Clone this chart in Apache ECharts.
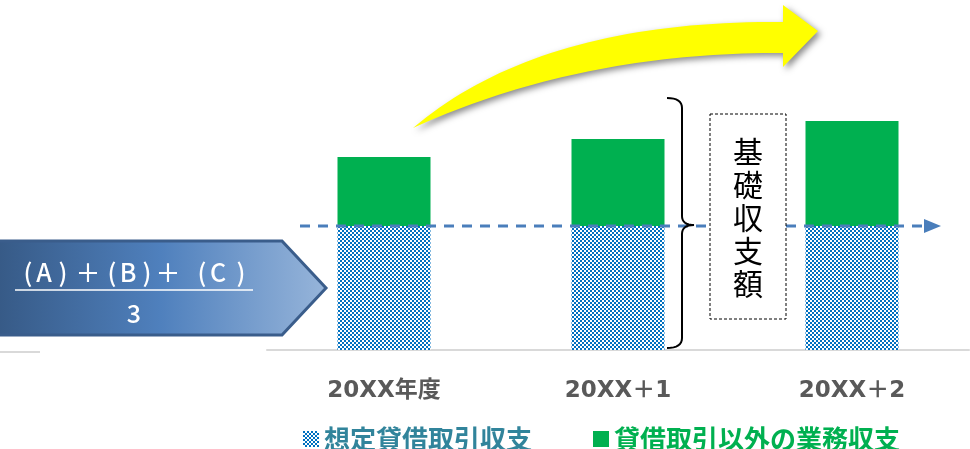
<!DOCTYPE html>
<html><head><meta charset="utf-8">
<script src="https://cdn.jsdelivr.net/npm/echarts@6/dist/echarts.min.js"></script>
<style>html,body{margin:0;padding:0;background:#fff}#c{width:970px;height:449px}</style>
</head><body><div id="c"></div>
<script>
const categories = ['20XX年度', '20XX＋1', '20XX＋2'];
const baseValues = [124, 124, 124];
const otherValues = [69, 87, 105];
const seriesNames = ['想定貸借取引収支', '貸借取引以外の業務収支'];
const formulaTop = '(A)＋(B)＋(C)';
const formulaBottom = '3';
const boxText = '基礎収支額';

const pc = document.createElement('canvas');
pc.width = 4; pc.height = 4;
const pctx = pc.getContext('2d');
pctx.fillStyle = '#ffffff'; pctx.fillRect(0, 0, 4, 4);
pctx.fillStyle = '#0070c0'; pctx.fillRect(0, 0, 2, 2); pctx.fillRect(2, 2, 2, 2);
const pattern = { image: pc, repeat: 'repeat' };

const FONT = '"Noto Sans CJK JP", "Noto Sans", sans-serif';
const LFONT = '"DejaVu Sans", "Noto Sans CJK JP", sans-serif';
const chart = echarts.init(document.getElementById('c'), null, { renderer: 'canvas' });
chart.setOption({
  animation: false,
  grid: { left: 267, right: 1, top: 0, bottom: 99 },
  xAxis: {
    type: 'category', data: categories,
    axisLine: { lineStyle: { color: '#d9d9d9', width: 2 } },
    axisTick: { show: false },
    axisLabel: { color: '#595959', fontSize: 23, fontWeight: 'bold', fontFamily: LFONT, margin: 30 }
  },
  yAxis: { type: 'value', min: 0, max: 350, show: false, splitLine: { show: false } },
  legend: {
    left: 298, top: 421, itemWidth: 16, itemHeight: 16, itemGap: 61,
    textStyle: { fontSize: 26, fontWeight: 'bold', fontFamily: FONT, padding: [0, 0, 0, 0] },
    data: [
      { name: seriesNames[0], icon: 'rect', textStyle: { color: '#31849b' } },
      { name: seriesNames[1], icon: 'rect', textStyle: { color: '#00b050' } }
    ]
  },
  series: [
    { name: seriesNames[0], type: 'bar', stack: 's', data: baseValues, barWidth: 93,
      itemStyle: { color: pattern } },
    { name: seriesNames[1], type: 'bar', stack: 's', data: otherValues, barWidth: 93,
      itemStyle: { color: '#00b050' } }
  ]
});

const yLine = chart.convertToPixel({ yAxisIndex: 0 }, baseValues[0]);
const yBase = chart.convertToPixel({ yAxisIndex: 0 }, 0);

function quad(p0, c, p1, n) {
  const pts = [];
  for (let i = 0; i <= n; i++) {
    const t = i / n, u = 1 - t;
    pts.push([u * u * p0[0] + 2 * u * t * c[0] + t * t * p1[0], u * u * p0[1] + 2 * u * t * c[1] + t * t * p1[1]]);
  }
  return pts;
}
// yellow curved arrow outline
const upper = quad([413, 128], [540, 20], [783, 22], 40);
const lower = quad([783, 53], [580, 52], [413, 128], 40);
const arrowPts = upper.concat([[783, 5], [818, 31], [783, 67]], lower);

// brace
const brace = [].concat(
  quad([667, 98], [682, 98], [682, 108], 8),
  quad([682, yLine - 10], [682, yLine - 1], [694, yLine - 1], 8),
  quad([682, yLine + 8], [682, yLine - 1], [694, yLine - 1], 8).reverse().slice(1),
  quad([682, yBase - 12], [682, yBase - 2], [667, yBase - 2], 8)
);

// formula glyph positions
const glyphX = [28, 44, 63, 88, 112, 128, 147, 168, 202, 218, 241];
const formulaGlyphs = formulaTop.split('').map((ch, i) => ({
  type: 'text', z: 6, x: glyphX[i], y: 272,
  style: { text: ch, fill: '#fff', font: '500 25px ' + FONT, align: 'center', verticalAlign: 'middle' }
}));

chart.setOption({
  graphic: [
    { type: 'line', z: 5, shape: { x1: 0, y1: yBase + 2, x2: 40, y2: yBase + 2 },
      style: { stroke: '#d9d9d9', lineWidth: 2 } },
    { type: 'polygon', z: 5,
      shape: { points: [[-5, 241], [282, 241], [326, 288], [282, 335], [-5, 335]] },
      style: { fill: new echarts.graphic.LinearGradient(0, 0, 1, 0, [
        { offset: 0, color: '#365985' }, { offset: 0.5, color: '#4f80bd' }, { offset: 1, color: '#97b5da' }]),
        stroke: '#3a5d8b', lineWidth: 3 } }
  ].concat(formulaGlyphs, [
    { type: 'line', z: 6, shape: { x1: 15, y1: 290, x2: 253, y2: 290 }, style: { stroke: '#fff', lineWidth: 1.5 } },
    { type: 'text', z: 6, x: 134, y: 313,
      style: { text: formulaBottom, fill: '#fff', font: '500 25px ' + FONT, align: 'center', verticalAlign: 'middle' } },
    { type: 'line', z: 10, shape: { x1: 300, y1: yLine, x2: 926, y2: yLine },
      style: { stroke: '#4a7ebb', lineWidth: 3, lineDash: [10, 8] } },
    { type: 'polygon', z: 10, shape: { points: [[924, yLine - 7], [941, yLine], [924, yLine + 7]] },
      style: { fill: '#4a7ebb' } },
    { type: 'polyline', z: 10, shape: { points: brace },
      style: { stroke: '#000', lineWidth: 2, fill: null } },
    { type: 'rect', z: 11, shape: { x: 710, y: 114, width: 76, height: 205 },
      style: { fill: '#fff', stroke: '#000', lineWidth: 1, lineDash: [3, 2] } },
    { type: 'text', z: 12, x: 748, y: 218,
      style: { text: boxText.split('').join('\n'), fill: '#000', font: '30px ' + FONT, lineHeight: 33,
        align: 'center', verticalAlign: 'middle' } },
    { type: 'polygon', z: 12, shape: { points: arrowPts },
      style: { fill: '#ffff00', shadowBlur: 6, shadowColor: 'rgba(0,0,0,0.45)', shadowOffsetX: 3, shadowOffsetY: 3 } }
  ])
});
</script></body></html>
